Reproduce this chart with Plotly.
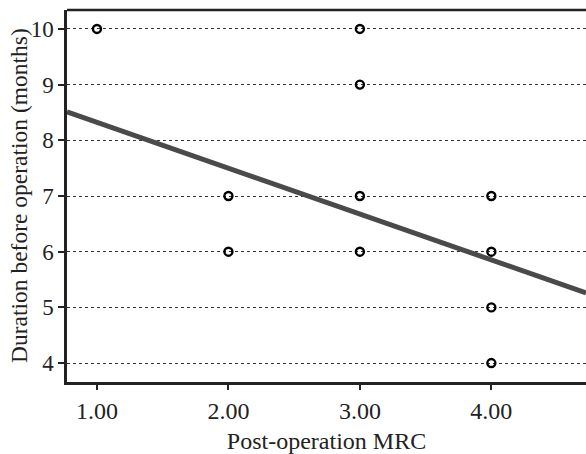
import plotly.graph_objects as go

# Data
mrc = [1, 3, 3, 2, 3, 4, 2, 3, 4, 4, 4]
duration = [10, 10, 9, 7, 7, 7, 6, 6, 6, 5, 4]
x_ticks = [1, 2, 3, 4]
x_tick_labels = ["1.00", "2.00", "3.00", "4.00"]
y_ticks = [4, 5, 6, 7, 8, 9, 10]
fit_x = [0.772, 4.72]
fit_y = [8.51, 5.26]

fig = go.Figure()
fig.add_trace(go.Scatter(x=fit_x, y=fit_y, mode="lines",
                         line=dict(color="#4a4a4a", width=5), showlegend=False))
fig.add_trace(go.Scatter(x=mrc, y=duration, mode="markers",
                         marker=dict(symbol="circle-open", size=8, color="black",
                                     line=dict(width=2.4, color="black")),
                         showlegend=False))

font_family = "'Liberation Serif', 'Times New Roman', serif"
fig.update_layout(
    width=586, height=454,
    margin=dict(l=67, r=0, t=10, b=72, autoexpand=False),
    paper_bgcolor="white", plot_bgcolor="white",
    font=dict(family=font_family, color="#222", size=23),
    xaxis=dict(range=[0.772, 4.72], tickvals=x_ticks, ticktext=x_tick_labels,
               showgrid=False, zeroline=False, showline=True, linecolor="#222",
               linewidth=2.5, ticks="outside", ticklen=5, tickwidth=2, tickcolor="#222",
               tickfont=dict(size=24), automargin=True,
               title=dict(text="Post-operation MRC", font=dict(size=24), standoff=14)),
    yaxis=dict(range=[3.66, 10.34], tickvals=y_ticks,
               showgrid=True, gridcolor="#333", griddash="dot", gridwidth=1,
               zeroline=False, showline=True, linecolor="#222",
               linewidth=2.5, ticks="outside", ticklen=6, tickwidth=2, tickcolor="#222",
               tickfont=dict(size=23), automargin=False),
    annotations=[dict(text="Duration before operation (months)", textangle=-90,
                      xref="paper", yref="paper", x=0, y=0.5, xanchor="center",
                      yanchor="middle", xshift=-48, showarrow=False,
                      font=dict(size=23.5))],
    shapes=[dict(type="line", xref="paper", yref="paper", x0=0, x1=1, y0=1, y1=1,
                 line=dict(color="#222", width=2.5))],
)

fig.write_html("out.html")
